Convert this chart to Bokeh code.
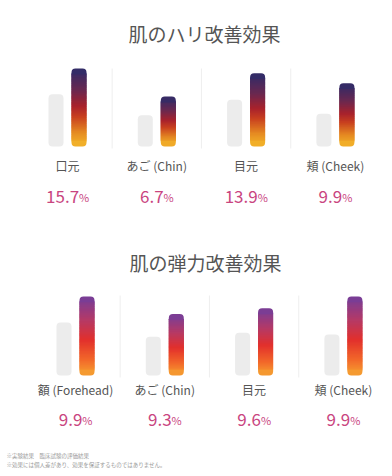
import numpy as np
from bokeh.plotting import figure
from bokeh.layouts import column
from bokeh.models import Range1d, ColumnDataSource
from bokeh.core.properties import value
from bokeh.embed import file_html
from bokeh.resources import INLINE

# ---------------- data ----------------
title_hari = "肌のハリ改善効果"
categories_hari = ["口元", "あご (Chin)", "目元", "頬 (Cheek)"]
before_hari = [67, 40, 60, 42]     # relative index (before)
after_hari = [100, 64, 94, 81]     # relative index (after)
improve_hari = [15.7, 6.7, 13.9, 9.9]

title_dan = "肌の弾力改善効果"
categories_dan = ["額 (Forehead)", "あご (Chin)", "目元", "頬 (Cheek)"]
before_dan = [67, 49, 54, 52]
after_dan = [100, 78, 85, 100]
improve_dan = [9.9, 9.3, 9.6, 9.9]

footnotes = ["※実験結果　臨床試験の評価結果",
             "※効果には個人差があり、効果を保証するものではありません。"]

# ---------------- style ----------------
FONT = "Noto Sans CJK JP"
W = 384
STEP = 89.3
stops_hari = [(0.0, "#f4b72a"), (0.18, "#e58a22"), (0.38, "#c8401f"),
              (0.52, "#a8222c"), (0.72, "#6a2850"), (1.0, "#2c2c6a")]
stops_dan = [(0.0, "#f6a331"), (0.2, "#f2682a"), (0.45, "#e2302c"),
             (0.7, "#b53a66"), (1.0, "#733d9b")]


def hex2rgb(h):
    h = h.lstrip("#")
    return np.array([int(h[i:i + 2], 16) for i in (0, 2, 4)], dtype=float)


def color_at(stops, f):
    f = min(max(f, 0.0), 1.0)
    for (f0, c0), (f1, c1) in zip(stops[:-1], stops[1:]):
        if f <= f1:
            t = (f - f0) / (f1 - f0) if f1 > f0 else 0
            c = hex2rgb(c0) * (1 - t) + hex2rgb(c1) * t
            return "#%02x%02x%02x" % tuple(int(round(v)) for v in c)
    return stops[-1][1]


def panel(title, cats, before, after, improve, stops, H, base_top, k, cx0,
          label_dy, pct_dy, title_dy, title_x, sep_top_px, notes=None):
    ux = 1.0 / STEP
    uy = 1.0 / k
    xs = -cx0 / STEP
    p = figure(width=W, height=H, output_backend="svg", toolbar_location=None,
               x_axis_type=None, y_axis_type=None, min_border=0,
               x_range=Range1d(xs, xs + W / STEP),
               y_range=Range1d(-(H - base_top) / k, base_top / k))
    p.outline_line_color = None
    p.grid.visible = False
    p.background_fill_color = "white"
    p.border_fill_color = "white"

    idx = np.arange(len(cats), dtype=float)
    bw = 15 * ux
    off = 11.5 * ux

    # separators
    sx = idx[:-1] + 0.5
    p.segment(x0=sx, y0=[-2 * uy] * len(sx), x1=sx, y1=[sep_top_px * uy] * len(sx),
              line_color="#eeeeee", line_width=1)

    # before bars
    p.quad(left=idx - off - bw / 2, right=idx - off + bw / 2,
           bottom=[0] * len(idx), top=before,
           fill_color="#ececec", line_color=None, border_radius=4)

    # after bars with vertical gradient
    cap = 5 * uy
    mid = dict(l=[], r=[], b=[], t=[], c=[])
    tops = dict(l=[], r=[], b=[], t=[], c=[])
    bots = dict(l=[], r=[], b=[], t=[], c=[])
    n = 80
    for i, h in enumerate(after):
        L = i + off - bw / 2
        R = i + off + bw / 2
        edges = np.linspace(cap, h - cap, n + 1)
        for j in range(n):
            mid["l"].append(L); mid["r"].append(R)
            mid["b"].append(edges[j])
            mid["t"].append(min(edges[j + 1] + 1.2 * uy, h - cap))
            mid["c"].append(color_at(stops, (edges[j] + edges[j + 1]) / 2 / h))
        tops["l"].append(L); tops["r"].append(R)
        tops["b"].append(h - cap - 0.8 * uy); tops["t"].append(h)
        tops["c"].append(color_at(stops, 1 - cap / 2 / h))
        bots["l"].append(L); bots["r"].append(R)
        bots["b"].append(0); bots["t"].append(cap + 0.8 * uy)
        bots["c"].append(color_at(stops, cap / 2 / h))
    p.quad(left="l", right="r", bottom="b", top="t", fill_color="c",
           line_color=None, source=ColumnDataSource(mid))
    p.quad(left="l", right="r", bottom="b", top="t", fill_color="c",
           line_color=None, border_radius=(4, 4, 0, 0),
           source=ColumnDataSource(tops))
    p.quad(left="l", right="r", bottom="b", top="t", fill_color="c",
           line_color=None, border_radius=(0, 0, 4, 4),
           source=ColumnDataSource(bots))

    # title
    p.text(x=[xs + title_x * ux], y=[0], text=[title], y_offset=title_dy,
           text_align="center", text_baseline="middle",
           text_font=value(FONT), text_font_size="19px", text_color="#555555")

    # category labels
    p.text(x=idx, y=[0] * len(idx), text=cats, y_offset=label_dy,
           text_align="center", text_baseline="middle",
           text_font=value(FONT), text_font_size="12px", text_color="#555555")

    # percentage labels
    nums = [f"{v:.1f}" for v in improve]
    fs = 17
    pw = 10
    xo = []
    for s in nums:
        w = sum(0.27 if ch == "." else 0.56 for ch in s) * fs
        xo.append((w - pw) / 2)
    src = ColumnDataSource(dict(x=idx, y=[0] * len(idx), t=nums,
                                pct=["%"] * len(idx), xo=xo))
    p.text(x="x", y="y", text="t", x_offset="xo", y_offset=pct_dy + 6,
           text_align="right", text_baseline="alphabetic",
           text_font=value(FONT), text_font_size=f"{fs}px",
           text_color="#c9457f", source=src)
    p.text(x="x", y="y", text="pct", x_offset="xo", y_offset=pct_dy + 6,
           text_align="left", text_baseline="alphabetic",
           text_font=value(FONT), text_font_size="11px",
           text_color="#c9457f", source=src)

    if notes:
        p.text(x=[xs + 6 * ux] * len(notes), y=[0] * len(notes), text=notes,
               y_offset=[80, 89], text_align="left", text_baseline="middle",
               text_font=value(FONT), text_font_size="5.5px",
               text_color="#9a9a9a")
    return p


p1 = panel(title_hari, categories_hari, before_hari, after_hari, improve_hari,
           stops_hari, H=238, base_top=146, k=0.78, cx0=67,
           label_dy=19, pct_dy=44, title_dy=-113, title_x=204, sep_top_px=78)
p2 = panel(title_dan, categories_dan, before_dan, after_dan, improve_dan,
           stops_dan, H=232, base_top=137, k=0.79, cx0=75,
           label_dy=14, pct_dy=38, title_dy=-113, title_x=205, sep_top_px=80,
           notes=footnotes)

layout = column(p1, p2, spacing=0)
open("out.html", "w").write(file_html(layout, INLINE))
